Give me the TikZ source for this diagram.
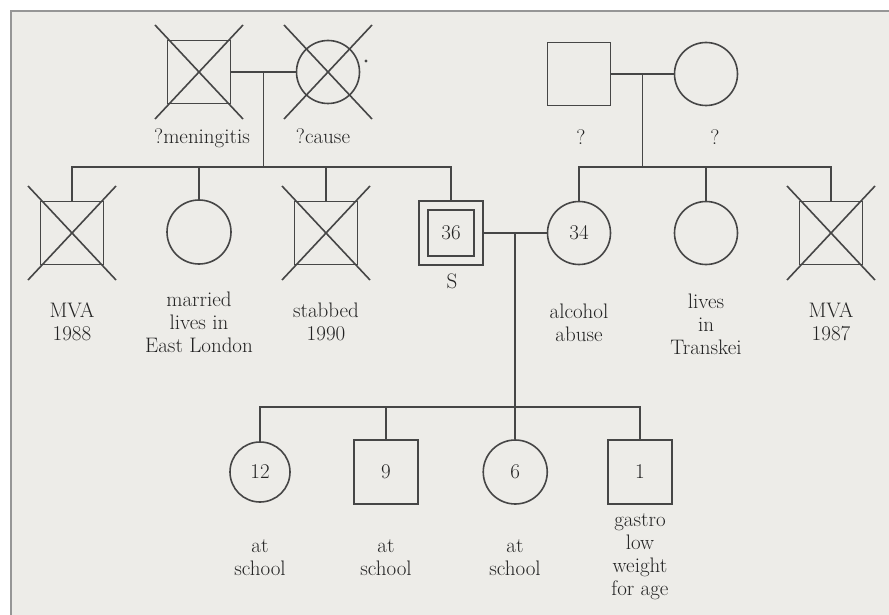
\documentclass[tikz,border=0pt]{standalone}
\usetikzlibrary{calc}
\definecolor{bgc}{RGB}{237,236,232}
\definecolor{lc}{RGB}{70,70,70}
\definecolor{fc}{RGB}{150,150,150}
\definecolor{tc}{RGB}{35,35,35}
\newcommand\lbl{\fontsize{21}{23}\selectfont}
\newcommand\xcross[1]{%
  \draw[ln] ([shift={(-44,-47)}]#1.center) -- ([shift={(44,47)}]#1.center);
  \draw[ln] ([shift={(44,-47)}]#1.center) -- ([shift={(-44,47)}]#1.center);}
\tikzset{
  ln/.style={draw=lc, line width=1.6pt},
  sq/.style={ln, rectangle, minimum size=63pt, inner sep=0pt, font=\lbl, text=tc},
  ci/.style={ln, circle, minimum size=63pt, inner sep=0pt, font=\lbl, text=tc},
  lab/.style={align=center, font=\lbl, text=tc, inner sep=0pt},
}
\begin{document}
\begin{tikzpicture}[x=1pt,y=-1pt]
\useasboundingbox (0,0) rectangle (889,615);
\fill[white] (0,0) rectangle (889,615);
\fill[bgc] (11,11) rectangle (889,615);
\draw[fc, line width=2pt] (11,615) -- (11,11) -- (889,11);

% paternal grandparents
\node[sq] (pgf) at (199,72) {};
\node[ci] (pgm) at (328,72) {};
\xcross{pgf}
\xcross{pgm}
\fill[lc] (366,61) circle (1.6);
\node[lab, anchor=base] (lpgf) at (202,144) {?meningitis};
\node[lab, anchor=base] (lpgm) at (323,144) {?cause};
\draw[ln] (pgf.east) -- (pgm.west);
\coordinate (m1) at ($(pgf.east)!.5!(pgm.west)$);
\coordinate (sy) at (0,167);
\coordinate (s1) at (m1 |- sy);
\draw[ln] (m1) -- (s1);

% maternal grandparents
\node[sq] (mgf) at (579,74) {};
\node[ci] (mgm) at (706,74) {};
\node[lab, anchor=base] (lmgf) at (581,145) {?};
\node[lab, anchor=base] (lmgm) at (715,145) {?};
\draw[ln] (mgf.east) -- (mgm.west);
\coordinate (m2) at ($(mgf.east)!.5!(mgm.west)$);
\coordinate (s2) at (m2 |- sy);
\draw[ln] (m2) -- (s2);

% paternal siblings
\node[sq] (b1) at (72,233) {};
\node[ci, minimum size=64pt] (b2) at (199,232) {};
\node[sq] (b3) at (326,233) {};
\node[sq, minimum size=46pt] (p) at (451,233) {36};
\node[sq, minimum size=64pt] (po) at (451,233) {};
\xcross{b1}
\xcross{b3}
\draw[ln] (b1.north) -- (b1.north |- sy) -- (po.north |- sy) -- (po.north);
\draw[ln] (b2.north) -- (b2.north |- sy);
\draw[ln] (b3.north) -- (b3.north |- sy);

% maternal siblings
\node[ci] (w) at (579,233) {34};
\node[ci] (t2) at (706,233) {};
\node[sq] (t3) at (831,233) {};
\xcross{t3}
\draw[ln] (w.north) -- (w.north |- sy) -- (t3.north |- sy) -- (t3.north);
\draw[ln] (t2.north) -- (t2.north |- sy);

% labels generation II
\node[lab] (lb1) at (72,322) {MVA\\1988};
\node[lab] (lb2) at (199,322) {married\\lives in\\East London};
\node[lab] (lb3) at (326,322) {stabbed\\1990};
\node[lab, anchor=base] (lp) at (452,288) {S};
\node[lab] (lw) at (579,323) {alcohol\\abuse};
\node[lab] (lt2) at (706,324) {lives\\in\\Transkei};
\node[lab] (lt3) at (831,322) {MVA\\1987};

% marriage of proband
\draw[ln] (po.east) -- (w.west);
\coordinate (m3) at ($(po.east)!.5!(w.west)$);
\coordinate (sy3) at (0,407);
\coordinate (s3) at (m3 |- sy3);
\draw[ln] (m3) -- (s3);

% children
\node[ci, minimum size=60pt] (k1) at (260,472) {12};
\node[sq, minimum size=64pt] (k2) at (386,472) {9};
\node[ci, minimum size=64pt] (k3) at (m3 |- 0,472) {6};
\node[sq, minimum size=64pt] (k4) at (640,472) {1};
\draw[ln] (k1.north) -- (k1.north |- sy3) -- (k4.north |- sy3) -- (k4.north);
\draw[ln] (k2.north) -- (k2.north |- sy3);
\draw[ln] (k3.north) -- (k3.north |- sy3);

\node[lab] (lk1) at (260,558) {at\\school};
\node[lab] (lk2) at (386,558) {at\\school};
\node[lab] (lk3) at (515,558) {at\\school};
\node[lab] (lk4) at (640,557) {gastro\\low\\weight\\for age};
\end{tikzpicture}
\end{document}
